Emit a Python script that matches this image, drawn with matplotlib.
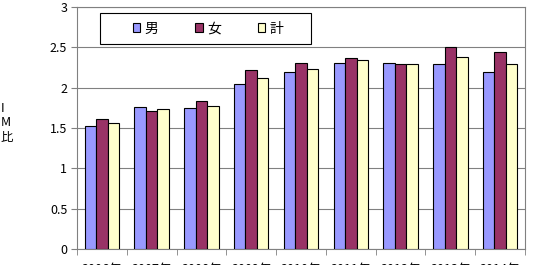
import numpy as np
import matplotlib.pyplot as plt
from matplotlib.patches import Rectangle

plt.rcParams['font.family'] = ['Noto Sans CJK JP', 'DejaVu Sans']

years = ['2006年', '2007年', '2008年', '2009年', '2010年', '2011年', '2012年', '2013年', '2014年']
male = [1.52, 1.76, 1.75, 2.05, 2.19, 2.31, 2.31, 2.29, 2.19]
female = [1.61, 1.71, 1.83, 2.22, 2.30, 2.37, 2.29, 2.50, 2.44]
total = [1.56, 1.74, 1.77, 2.12, 2.23, 2.34, 2.29, 2.38, 2.29]

fig = plt.figure(figsize=(5.34, 2.65), dpi=100)
ax = fig.add_axes([77 / 534, 1 - 249 / 265, 448 / 534, 242 / 265])

x = np.arange(len(years))
w = 0.23
ax.bar(x - w, male, w, color='#9999FF', edgecolor='black', linewidth=0.8, label='男', zorder=3)
ax.bar(x, female, w, color='#993366', edgecolor='black', linewidth=0.8, label='女', zorder=3)
ax.bar(x + w, total, w, color='#FFFFCC', edgecolor='black', linewidth=0.8, label='計', zorder=3)

ax.set_xlim(-0.5, len(years) - 0.5)
ax.set_ylim(0, 3)
ax.set_yticks(np.arange(0, 3.01, 0.5))
ax.set_yticklabels(['0', '0.5', '1', '1.5', '2', '2.5', '3'])
ax.yaxis.grid(True, color='#808080', linewidth=0.8, zorder=0)
ax.set_xticks(x)
ax.set_xticklabels(years)
ax.set_xticks(np.arange(-0.5, len(years)), minor=True)
ax.tick_params(axis='x', which='major', length=0, labelsize=9, pad=10)
ax.tick_params(axis='x', which='minor', length=4, color='#808080')
ax.tick_params(axis='y', length=4, color='#808080', labelsize=9, pad=3)
for s in ax.spines.values():
    s.set_color('#808080')
    s.set_linewidth(0.8)

# legend box
box = Rectangle((100 / 534, 1 - 44 / 265), 211 / 534, 31 / 265, transform=fig.transFigure,
                facecolor='white', edgecolor='black', linewidth=0.8, zorder=4, clip_on=False)
ax.add_patch(box)
leg = ax.legend(loc='center left', bbox_to_anchor=(123 / 534, 1 - 28.5 / 265),
                bbox_transform=fig.transFigure, ncol=3, frameon=False,
                fontsize=10, handlelength=0.55, handleheight=0.55,
                columnspacing=2.65, handletextpad=0.3, borderpad=0.2)
leg.set_zorder(5)

fig.text(0.5 / 534, 1 - 123 / 265, 'I\nM\n比', fontsize=9, va='center', ha='left', linespacing=1.1)

fig.savefig('out.png', dpi=100)
